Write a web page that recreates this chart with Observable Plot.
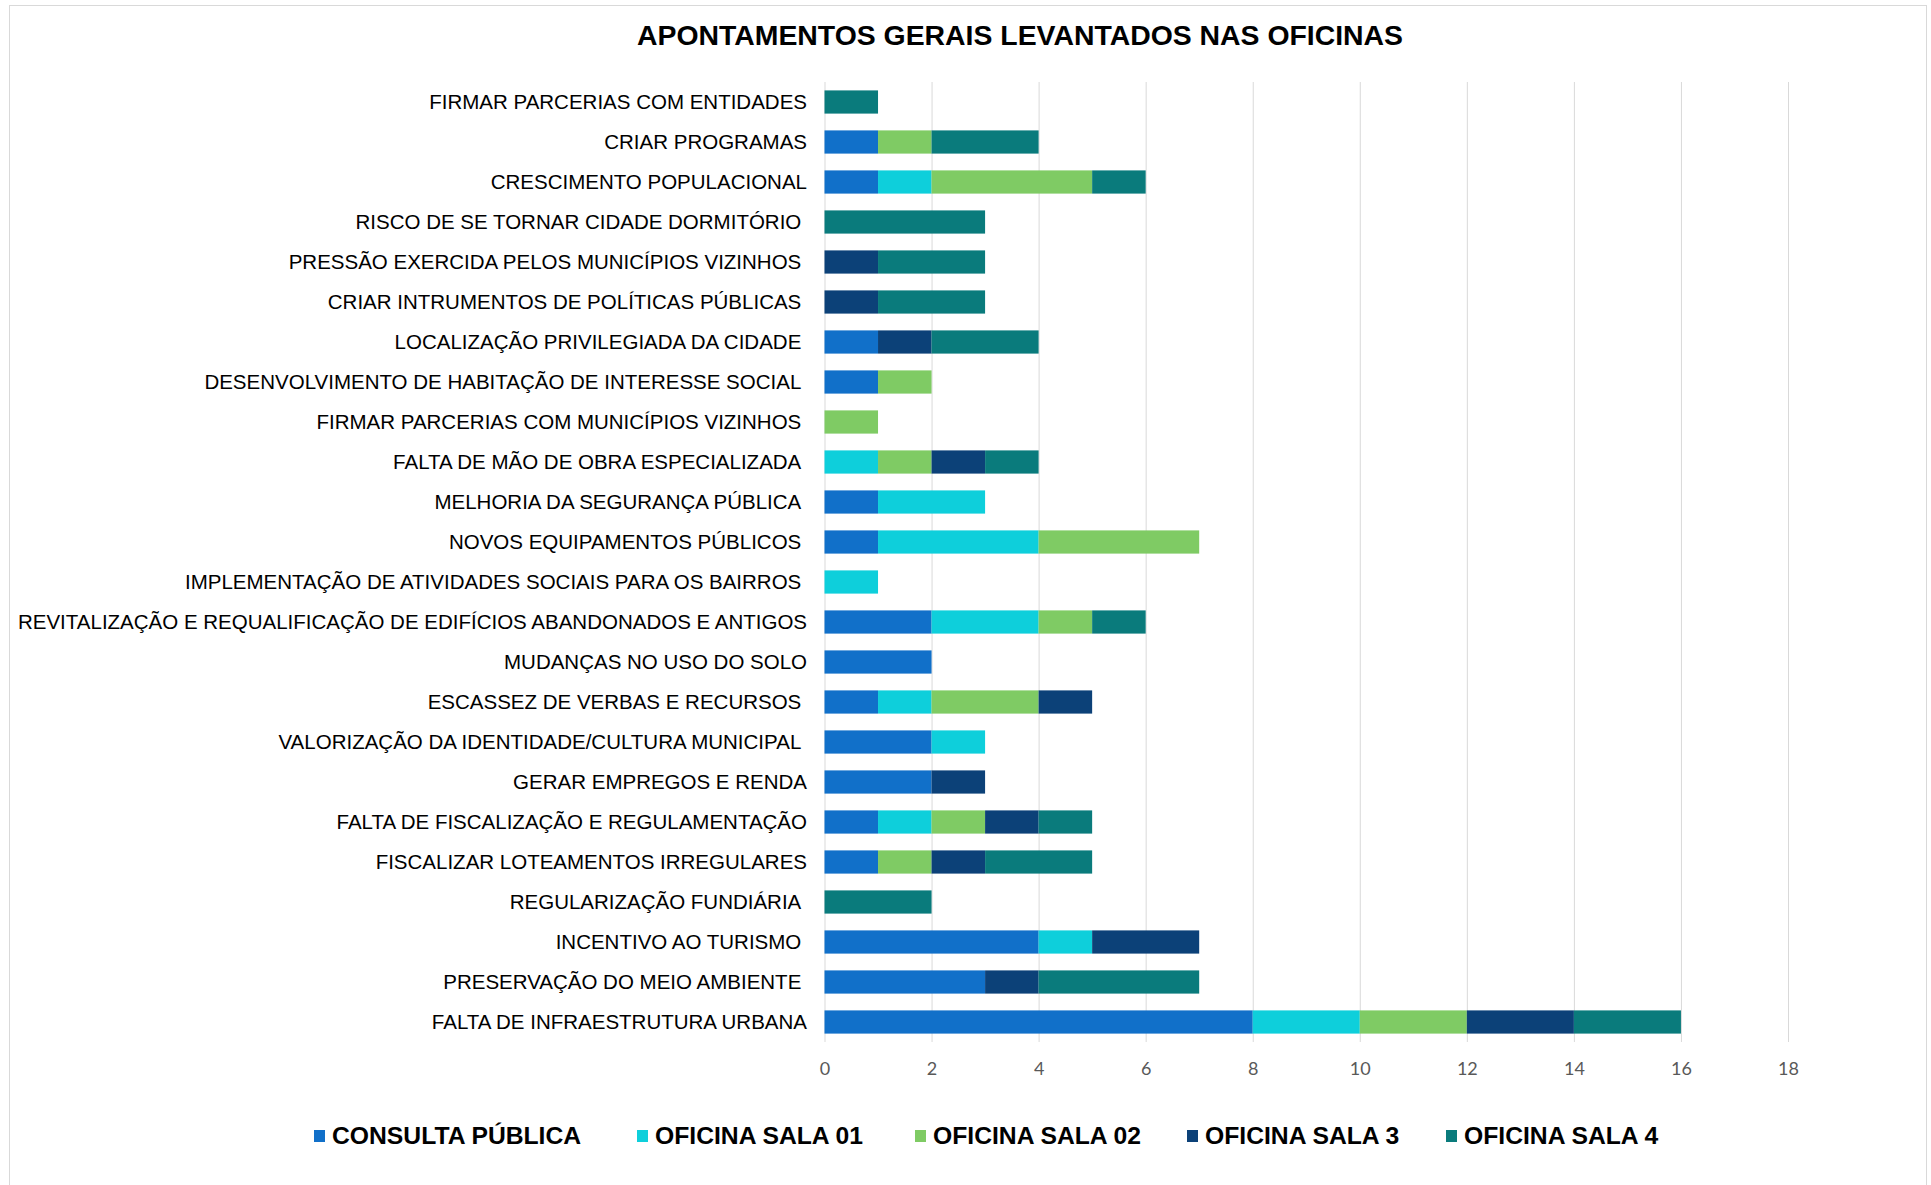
<!DOCTYPE html>
<html><head><meta charset="utf-8">
<script src="https://cdn.jsdelivr.net/npm/d3@7"></script>
<script src="https://cdn.jsdelivr.net/npm/@observablehq/plot@0.6"></script>
<style>
html,body{margin:0;padding:0;background:#fff;}
body{width:1931px;height:1185px;position:relative;overflow:hidden;font-family:"Liberation Sans",Arial,sans-serif;}
#frame{position:absolute;left:9px;top:5px;width:1918px;height:1200px;border:1px solid #d9d9d9;box-sizing:border-box;}
#title{position:absolute;top:19px;left:1020px;transform:translateX(-50%);white-space:nowrap;font-weight:bold;font-size:28.4px;line-height:32px;color:#000;}
#chart{position:absolute;left:0;top:60px;}
#legend{position:absolute;left:0;top:1121px;width:1931px;height:30px;font-weight:bold;font-size:24.7px;line-height:30px;color:#000;}
#legend .item{position:absolute;top:0;display:flex;align-items:center;white-space:nowrap;}
#legend .sw{width:11px;height:12px;margin-right:7px;}
</style>
</head><body>
<div id="frame"></div>
<div id="title">APONTAMENTOS GERAIS LEVANTADOS NAS OFICINAS</div>
<div id="chart"></div>
<div id="legend"></div>
<script>
const NB = "\u00a0";
const categories = [
  "FIRMAR PARCERIAS COM ENTIDADES",
  "CRIAR PROGRAMAS",
  "CRESCIMENTO POPULACIONAL",
  "RISCO DE SE TORNAR CIDADE DORMITÓRIO" + NB,
  "PRESSÃO EXERCIDA PELOS MUNICÍPIOS VIZINHOS" + NB,
  "CRIAR INTRUMENTOS DE POLÍTICAS PÚBLICAS" + NB,
  "LOCALIZAÇÃO PRIVILEGIADA DA CIDADE" + NB,
  "DESENVOLVIMENTO DE HABITAÇÃO DE INTERESSE SOCIAL" + NB,
  "FIRMAR PARCERIAS COM MUNICÍPIOS VIZINHOS" + NB,
  "FALTA DE MÃO DE OBRA ESPECIALIZADA" + NB,
  "MELHORIA DA SEGURANÇA PÚBLICA" + NB,
  "NOVOS EQUIPAMENTOS PÚBLICOS" + NB,
  "IMPLEMENTAÇÃO DE ATIVIDADES SOCIAIS PARA OS BAIRROS" + NB,
  "REVITALIZAÇÃO E REQUALIFICAÇÃO DE EDIFÍCIOS ABANDONADOS E ANTIGOS",
  "MUDANÇAS NO USO DO SOLO",
  "ESCASSEZ DE VERBAS E RECURSOS" + NB,
  "VALORIZAÇÃO DA IDENTIDADE/CULTURA MUNICIPAL" + NB,
  "GERAR EMPREGOS E RENDA",
  "FALTA DE FISCALIZAÇÃO E REGULAMENTAÇÃO",
  "FISCALIZAR LOTEAMENTOS IRREGULARES",
  "REGULARIZAÇÃO FUNDIÁRIA" + NB,
  "INCENTIVO AO TURISMO" + NB,
  "PRESERVAÇÃO DO MEIO AMBIENTE" + NB,
  "FALTA DE INFRAESTRUTURA URBANA"
];
const seriesNames = ["CONSULTA PÚBLICA", "OFICINA SALA 01", "OFICINA SALA 02", "OFICINA SALA 3", "OFICINA SALA 4"];
const seriesColors = ["#1170C9", "#0ECFDB", "#7FCB64", "#0C4178", "#0A7B7C"];
const consultaPublica = [0,1,1,0,0,0,1,1,0,0,1,1,0,2,2,1,2,2,1,1,0,4,3,8];
const oficinaSala01   = [0,0,1,0,0,0,0,0,0,1,2,3,1,2,0,1,1,0,1,0,0,1,0,2];
const oficinaSala02   = [0,1,3,0,0,0,0,1,1,1,0,3,0,1,0,2,0,0,1,1,0,0,0,2];
const oficinaSala3    = [0,0,0,0,1,1,1,0,0,1,0,0,0,0,0,1,0,1,1,1,0,2,1,2];
const oficinaSala4    = [1,2,1,3,2,2,2,0,0,1,0,0,0,1,0,0,0,0,1,2,2,0,3,2];
const xTicks = [0,2,4,6,8,10,12,14,16,18];
const legendLeft = [314, 637, 915, 1187, 1446];

const seriesValues = [consultaPublica, oficinaSala01, oficinaSala02, oficinaSala3, oficinaSala4];
const table = [];
seriesNames.forEach((s, si) => {
  categories.forEach((c, ci) => {
    const v = seriesValues[si][ci];
    if (v > 0) table.push({cat: c, series: s, value: v});
  });
});

const chart = Plot.plot({
  width: 1931,
  height: 1027,
  marginLeft: 824.5,
  marginRight: 143,
  marginTop: 22,
  marginBottom: 45,
  style: {fontFamily: "'Liberation Sans', Arial, sans-serif", background: "transparent"},
  x: {domain: [0, 18], axis: null},
  y: {domain: categories, paddingInner: 0.42, paddingOuter: 0.21, round: false, axis: null},
  color: {domain: seriesNames, range: seriesColors},
  marks: [
    Plot.gridX(xTicks, {stroke: "#d9d9d9", strokeOpacity: 1, strokeWidth: 1}),
    Plot.barX(table, {x: "value", y: "cat", fill: "series"}),
    Plot.axisY({tickSize: 0, tickPadding: 18, fontSize: 20.5, fill: "#000", label: null}),
    Plot.axisX(xTicks, {tickSize: 0, tickPadding: 20, fontSize: 18, fontFamily: "Lato, 'Open Sans', sans-serif", fill: "#595959", label: null})
  ]
});
document.getElementById("chart").appendChild(chart);

const legend = document.getElementById("legend");
seriesNames.forEach((s, i) => {
  const it = document.createElement("div");
  it.className = "item";
  it.style.left = legendLeft[i] + "px";
  const sw = document.createElement("div");
  sw.className = "sw";
  sw.style.background = seriesColors[i];
  const tx = document.createElement("span");
  tx.textContent = s;
  it.appendChild(sw); it.appendChild(tx);
  legend.appendChild(it);
});
</script>
</body></html>
